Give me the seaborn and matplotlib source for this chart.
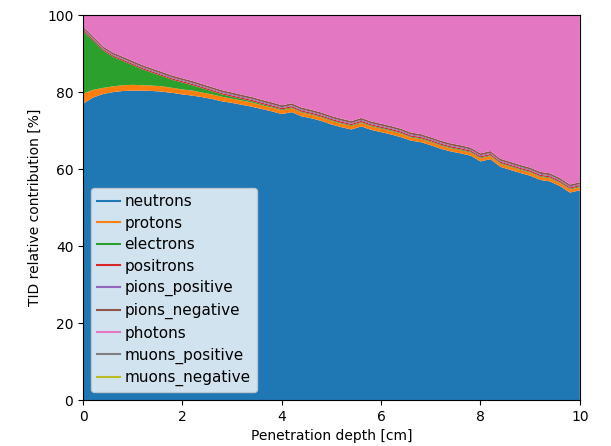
import numpy as np
import matplotlib
matplotlib.use("Agg")
import matplotlib.pyplot as plt
from matplotlib.lines import Line2D
import seaborn as sns

depth = [0.0, 0.2, 0.4, 0.6, 0.8, 1.0, 1.2, 1.4, 1.6, 1.8,
         2.0, 2.2, 2.4, 2.6, 2.8, 3.0, 3.2, 3.4, 3.6, 3.8,
         4.0, 4.2, 4.4, 4.6, 4.8, 5.0, 5.2, 5.4, 5.6, 5.8,
         6.0, 6.2, 6.4, 6.6, 6.8, 7.0, 7.2, 7.4, 7.6, 7.8,
         8.0, 8.2, 8.4, 8.6, 8.8, 9.0, 9.2, 9.4, 9.6, 9.8, 10.0]

neutrons = [77.0, 78.6, 79.5, 80.0, 80.3, 80.4, 80.4, 80.3, 80.1, 79.8,
            79.4, 79.1, 78.7, 78.2, 77.6, 77.2, 76.7, 76.2, 75.6, 75.0,
            74.3, 74.8, 73.7, 73.2, 72.5, 71.6, 70.9, 70.3, 71.1, 70.2,
            69.6, 69.0, 68.3, 67.4, 67.0, 66.2, 65.3, 64.6, 64.1, 63.5,
            62.0, 62.6, 60.6, 59.8, 59.0, 58.3, 57.2, 56.8, 55.6, 53.9, 54.5]

protons = [2.6, 2.0, 1.6, 1.5, 1.5, 1.5, 1.4, 1.4, 1.4, 1.3,
           1.3, 1.3, 1.2, 1.2, 1.2, 1.1, 1.1, 1.1, 1.0, 1.0,
           1.0, 1.0, 1.0, 0.9, 0.9, 0.9, 0.9, 0.9, 0.9, 0.9,
           0.9, 0.9, 0.9, 0.8, 0.8, 0.8, 0.8, 0.8, 0.8, 0.8,
           0.8, 0.8, 0.8, 0.8, 0.8, 0.8, 0.8, 0.8, 0.8, 0.8, 0.8]

electrons = [16.3, 12.8, 9.7, 7.7, 6.3, 5.1, 4.1, 3.3, 2.6, 2.1,
             1.8, 1.4, 1.1, 0.8, 0.6, 0.5, 0.4, 0.35, 0.3, 0.25,
             0.2, 0.2, 0.2, 0.2, 0.2, 0.2, 0.2, 0.2, 0.2, 0.2,
             0.2, 0.2, 0.2, 0.2, 0.2, 0.2, 0.2, 0.2, 0.2, 0.2,
             0.2, 0.2, 0.2, 0.2, 0.2, 0.2, 0.2, 0.2, 0.2, 0.2, 0.2]

positrons = [0.35] * 51
pions_positive = [0.25] * 51
pions_negative = [0.5] * 51

photons = [2.95, 5.45, 8.05, 9.65, 10.75, 11.85, 12.95, 13.85, 14.75, 15.65,
           16.35, 17.05, 17.85, 18.65, 19.45, 20.05, 20.65, 21.2, 21.95, 22.6,
           23.35, 22.85, 23.95, 24.55, 25.25, 26.15, 26.85, 27.45, 26.65, 27.55,
           28.15, 28.75, 29.45, 30.45, 30.85, 31.65, 32.55, 33.25, 33.75, 34.35,
           35.85, 35.25, 37.25, 38.05, 38.85, 39.55, 40.65, 41.05, 42.25, 43.95, 43.35]

muons_positive = [0.03] * 51
muons_negative = [0.02] * 51

labels = ["neutrons", "protons", "electrons", "positrons", "pions_positive",
          "pions_negative", "photons", "muons_positive", "muons_negative"]

series = np.array([neutrons, protons, electrons, positrons, pions_positive,
                   pions_negative, photons, muons_positive, muons_negative], dtype=float)
# relative contribution in percent
rel = series / series.sum(axis=0) * 100.0

colors = sns.color_palette("tab10", 9)

fig = plt.figure(figsize=(6.11, 4.46), dpi=100)
ax = fig.add_axes([0.136, 0.103, 0.813, 0.863])
ax.stackplot(depth, rel, colors=colors, labels=labels)
ax.set_xlim(0, 10)
ax.set_ylim(0, 100)
ax.set_xticks([0, 2, 4, 6, 8, 10])
ax.set_yticks([0, 20, 40, 60, 80, 100])
ax.set_xlabel("Penetration depth [cm]")
ax.set_ylabel("TID relative contribution [%]")

handles = [Line2D([0], [0], color=c, lw=1.5) for c in colors]
ax.legend(handles, labels, loc="lower left", fontsize=11,
          handlelength=1.5, handletextpad=0.3, labelspacing=0.43)

fig.savefig("out.png", dpi=100)
